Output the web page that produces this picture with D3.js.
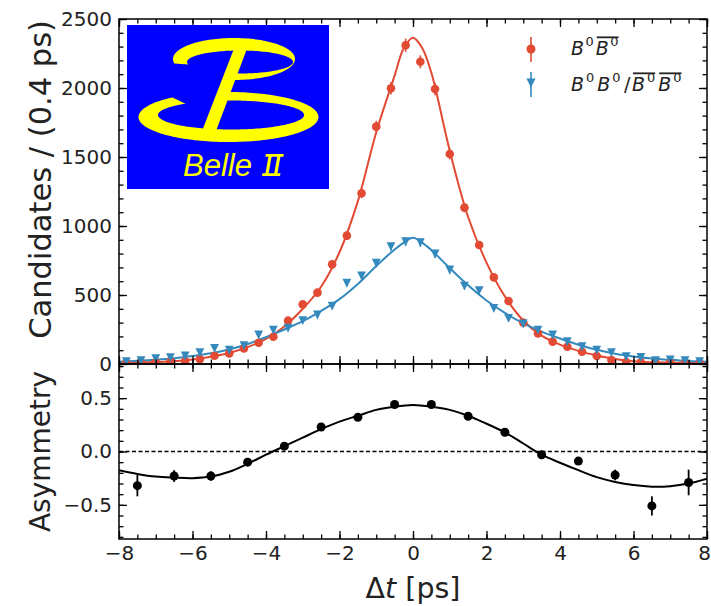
<!DOCTYPE html>
<html><head><meta charset="utf-8">
<script src="https://cdn.jsdelivr.net/npm/d3@7"></script>
<style>body{margin:0;background:#fff}svg{display:block}</style>
</head><body><svg id="c" width="711" height="606"></svg>
<script>
// ---------- data ----------
const binCenters = [-7.8,-7.4,-7.0,-6.6,-6.2,-5.8,-5.4,-5.0,-4.6,-4.2,-3.8,-3.4,-3.0,-2.6,-2.2,-1.8,-1.4,-1.0,-0.6,-0.2,
                    0.2,0.6,1.0,1.4,1.8,2.2,2.6,3.0,3.4,3.8,4.2,4.6,5.0,5.4,5.8,6.2,6.6,7.0,7.4,7.8];
const oppositeFlavor = [10,10,15,18,20,34,60,77,113,154,198,314,432,517,722,930,1237,1720,1998,2310,
                        2190,1993,1522,1133,862,628,456,300,222,162,125,89,58,29,15,12,10,10,8,8];
const sameFlavor = [17,24,38,46,58,82,113,101,133,210,246,259,314,355,420,585,638,730,850,886,
                    880,797,681,565,531,403,331,290,246,210,162,125,101,82,53,48,24,29,24,17];
const fitX = [-8,-7.5,-7,-6.5,-6,-5.5,-5,-4.5,-4,-3.5,-3,-2.5,-2,-1.5,-1,-0.5,-0.25,0,0.25,0.5,1,1.5,2,2.5,3,3.5,4,4.5,5,5.5,6,6.5,7,7.5,8];
const fitOpposite = [8,10,14,20,32,52,80,122,182,272,400,560,810,1180,1680,2090,2290,2365,2290,2110,1545,1065,735,490,315,205,140,95,62,36,20,13,10,8,7];
const fitSame = [17,23,31,42,58,78,105,145,195,250,310,385,470,580,710,830,880,915,880,825,695,570,460,370,295,235,185,140,103,75,55,40,30,22,17];
const asymX = [-7.5,-6.5,-5.5,-4.5,-3.5,-2.5,-1.5,-0.5,0.5,1.5,2.5,3.5,4.5,5.5,6.5,7.5];
const asymVal = [-0.32,-0.23,-0.23,-0.10,0.05,0.23,0.32,0.44,0.44,0.33,0.18,-0.03,-0.09,-0.22,-0.51,-0.29];
const asymErr = [0.10,0.055,0.045,0.03,0.025,0.02,0.02,0.02,0.02,0.02,0.02,0.025,0.03,0.05,0.09,0.12];
const asymFitX = [-8,-7.5,-7,-6.5,-6,-5.5,-5,-4.5,-4,-3.5,-3,-2.5,-2,-1.5,-1,-0.5,0,0.5,1,1.5,2,2.5,3,3.5,4,4.5,5,5.5,6,6.5,7,7.5,8];
const asymFitVal = [-0.175,-0.21,-0.235,-0.245,-0.25,-0.235,-0.19,-0.115,-0.03,0.05,0.13,0.21,0.28,0.335,0.39,0.42,0.435,0.42,0.39,0.335,0.26,0.18,0.075,-0.03,-0.105,-0.175,-0.24,-0.285,-0.315,-0.33,-0.325,-0.30,-0.255];
const xMajorTicks = [-8,-6,-4,-2,0,2,4,6,8];
const yTopTicks = [0,500,1000,1500,2000,2500];
const yBotTicks = [-0.5,0,0.5];

// ---------- layout ----------
const svg = d3.select("#c");
const L=119, R=707, T=19, M=364, B=539;
const RED="#E24A33", BLUE="#348ABD", FONT="DejaVu Sans";
const x = d3.scaleLinear().domain([-8,8]).range([L,R]);
const yTop = d3.scaleLinear().domain([0,2500]).range([M,T]);
const yBot = d3.scaleLinear().domain([-0.82,0.82]).range([B,M]);

const defs = svg.append("defs");
defs.append("clipPath").attr("id","clipTop").append("rect").attr("x",L).attr("y",T).attr("width",R-L).attr("height",M-T);
defs.append("clipPath").attr("id","clipBot").append("rect").attr("x",L).attr("y",M).attr("width",R-L).attr("height",B-M);

// ---------- top panel ----------
const topG = svg.append("g").attr("clip-path","url(#clipTop)");
const lineTop = d3.line().x(d=>x(d[0])).y(d=>yTop(d[1])).curve(d3.curveCatmullRom.alpha(0.5));
topG.append("path").datum(fitX.map((v,i)=>[v,fitOpposite[i]])).attr("d",lineTop)
  .attr("fill","none").attr("stroke",RED).attr("stroke-width",2);
topG.append("path").datum(fitX.map((v,i)=>[v,fitSame[i]])).attr("d",lineTop)
  .attr("fill","none").attr("stroke",BLUE).attr("stroke-width",2);

const redData = binCenters.map((c,i)=>({c, v:oppositeFlavor[i]}));
const blueData = binCenters.map((c,i)=>({c, v:sameFlavor[i]}));
topG.selectAll(".rerr").data(redData).join("line")
  .attr("x1",d=>x(d.c)).attr("x2",d=>x(d.c))
  .attr("y1",d=>yTop(d.v-Math.sqrt(d.v))).attr("y2",d=>yTop(d.v+Math.sqrt(d.v)))
  .attr("stroke",RED).attr("stroke-width",1.6);
topG.selectAll(".rpt").data(redData).join("circle")
  .attr("cx",d=>x(d.c)).attr("cy",d=>yTop(d.v)).attr("r",4.3).attr("fill",RED);
topG.selectAll(".berr").data(blueData).join("line")
  .attr("x1",d=>x(d.c)).attr("x2",d=>x(d.c))
  .attr("y1",d=>yTop(d.v-Math.sqrt(d.v))).attr("y2",d=>yTop(d.v+Math.sqrt(d.v)))
  .attr("stroke",BLUE).attr("stroke-width",1.6);
const tri = (cx,cy,h)=>`M${cx-h},${cy-h}L${cx+h},${cy-h}L${cx},${cy+h}Z`;
topG.selectAll(".bpt").data(blueData).join("path")
  .attr("d",d=>tri(x(d.c),yTop(d.v),4.4)).attr("fill",BLUE);

// ---------- bottom panel ----------
const botG = svg.append("g").attr("clip-path","url(#clipBot)");
botG.append("line").attr("x1",L).attr("x2",R).attr("y1",yBot(0)).attr("y2",yBot(0))
  .attr("stroke","#000").attr("stroke-width",1.3).attr("stroke-dasharray","4,2.5");
const lineBot = d3.line().x(d=>x(d[0])).y(d=>yBot(d[1])).curve(d3.curveCatmullRom.alpha(0.5));
botG.append("path").datum(asymFitX.map((v,i)=>[v,asymFitVal[i]])).attr("d",lineBot)
  .attr("fill","none").attr("stroke","#000").attr("stroke-width",2);
const aData = asymX.map((c,i)=>({c, v:asymVal[i], e:asymErr[i]}));
botG.selectAll(".aerr").data(aData).join("line")
  .attr("x1",d=>x(d.c)).attr("x2",d=>x(d.c))
  .attr("y1",d=>yBot(d.v-d.e)).attr("y2",d=>yBot(d.v+d.e))
  .attr("stroke","#000").attr("stroke-width",1.8);
botG.selectAll(".apt").data(aData).join("circle")
  .attr("cx",d=>x(d.c)).attr("cy",d=>yBot(d.v)).attr("r",4.5).attr("fill","#000");

// ---------- axes ----------
function styleAxis(g){
  g.select(".domain").remove();
  g.selectAll(".tick line").attr("stroke","#000").attr("stroke-width",1.3);
  g.selectAll(".tick text").attr("fill","#222");
  g.attr("font-family",FONT).attr("font-size",20);
}
function addAxis(axisGen, tx, ty){
  const g = svg.append("g").attr("transform",`translate(${tx},${ty})`).call(axisGen);
  styleAxis(g); return g;
}
const MAJ=-8, MIN=-4.5;
[[d3.axisTop,T],[d3.axisBottom,M],[d3.axisTop,M]].forEach(([fn,yy])=>{
  addAxis(fn(x).tickValues(x.ticks(32)).tickSize(MIN).tickFormat(""),0,yy);
  addAxis(fn(x).tickValues(xMajorTicks).tickSize(MAJ).tickFormat(""),0,yy);
});
addAxis(d3.axisBottom(x).tickValues(x.ticks(32)).tickSize(MIN).tickFormat(""),0,B);
const xLab = addAxis(d3.axisBottom(x).tickValues(xMajorTicks).tickSize(MAJ).tickPadding(7).tickFormat(d3.format("d")),0,B);
xLab.selectAll(".tick text").filter(d=>d===8).attr("dx",-3);
addAxis(d3.axisLeft(yTop).tickValues(yTop.ticks(25)).tickSize(MIN).tickFormat(""),L,0);
addAxis(d3.axisLeft(yTop).tickValues(yTopTicks).tickSize(MAJ).tickPadding(7).tickFormat(d3.format("d")),L,0);
addAxis(d3.axisRight(yTop).tickValues(yTop.ticks(25)).tickSize(MIN).tickFormat(""),R,0);
addAxis(d3.axisRight(yTop).tickValues(yTopTicks).tickSize(MAJ).tickFormat(""),R,0);
addAxis(d3.axisLeft(yBot).tickValues(yBot.ticks(16)).tickSize(MIN).tickFormat(""),L,0);
addAxis(d3.axisLeft(yBot).tickValues(yBotTicks).tickSize(MAJ).tickPadding(7).tickFormat(d3.format(".1f")),L,0);
addAxis(d3.axisRight(yBot).tickValues(yBot.ticks(16)).tickSize(MIN).tickFormat(""),R,0);
addAxis(d3.axisRight(yBot).tickValues(yBotTicks).tickSize(MAJ).tickFormat(""),R,0);

svg.append("rect").attr("x",L).attr("y",T).attr("width",R-L).attr("height",M-T)
  .attr("fill","none").attr("stroke","#000").attr("stroke-width",1.5);
svg.append("rect").attr("x",L).attr("y",M).attr("width",R-L).attr("height",B-M)
  .attr("fill","none").attr("stroke","#000").attr("stroke-width",1.5);

// axis labels
svg.append("text").attr("transform",`translate(51,${T+1}) rotate(-90)`).attr("text-anchor","end")
  .attr("font-family",FONT).attr("font-size",30.5).attr("fill","#222").text("Candidates / (0.4 ps)");
svg.append("text").attr("transform",`translate(50,${(M+B)/2}) rotate(-90)`).attr("text-anchor","middle")
  .attr("font-family",FONT).attr("font-size",28).attr("fill","#222").text("Asymmetry");
const xl = svg.append("text").attr("x",(L+R)/2).attr("y",598).attr("text-anchor","middle")
  .attr("font-family",FONT).attr("font-size",28.5).attr("fill","#222");
xl.append("tspan").text("\u0394");
xl.append("tspan").attr("font-style","italic").text("t");
xl.append("tspan").text(" [ps]");

// ---------- legend ----------
const leg = svg.append("g");
leg.append("line").attr("x1",531).attr("x2",531).attr("y1",37).attr("y2",62).attr("stroke",RED).attr("stroke-width",1.6);
leg.append("circle").attr("cx",531).attr("cy",49).attr("r",4.5).attr("fill",RED);
leg.append("line").attr("x1",531).attr("x2",531).attr("y1",72).attr("y2",97).attr("stroke",BLUE).attr("stroke-width",1.6);
leg.append("path").attr("d",tri(531,83,4.6)).attr("fill",BLUE);

function mathText(g, x0, y0, tokens, fs){
  let cx = x0; const bars = [];
  tokens.forEach(tk=>{
    cx += tk.gap || 0;
    const size = tk.sup ? fs*0.68 : fs;
    const t = g.append("text").attr("x",cx).attr("y", tk.sup ? y0-fs*0.45 : y0)
      .attr("font-family",FONT).attr("font-size",size)
      .attr("font-style", tk.it ? "italic" : "normal").attr("fill","#222").text(tk.s);
    if (tk.barStart) bars.push([cx]);
    cx += t.node().getComputedTextLength();
    if (tk.barEnd) bars[bars.length-1].push(cx);
  });
  bars.forEach(b=>g.append("line").attr("x1",b[0]+1).attr("x2",b[1]).attr("y1",y0-fs*0.93).attr("y2",y0-fs*0.93)
    .attr("stroke","#222").attr("stroke-width",1.8));
}
const FS=19;
mathText(leg, 571, 55, [
  {s:"B",it:true},{s:"0",sup:true,gap:1.5},
  {s:"B",it:true,gap:2,barStart:true},{s:"0",sup:true,gap:1.5,barEnd:true}
], FS);
mathText(leg, 571, 91, [
  {s:"B",it:true},{s:"0",sup:true,gap:2},
  {s:"B",it:true,gap:3},{s:"0",sup:true,gap:2},
  {s:"/",gap:3.5},
  {s:"B",it:true,gap:1.5,barStart:true},{s:"0",sup:true,gap:2,barEnd:true},
  {s:"B",it:true,gap:3,barStart:true},{s:"0",sup:true,gap:2,barEnd:true}
], FS);

// ---------- Belle II logo ----------
const logo = svg.append("g");
logo.append("rect").attr("x",127).attr("y",25).attr("width",202).attr("height",164).attr("fill","#0000FF");
function bowl(oc, orx, ory, ic, irx, iry, t0, t1, n){
  const ts = d3.range(n+1).map(i=>t0+(t1-t0)*i/n);
  const outer = ts.map(t=>[oc[0]+orx*Math.cos(t), oc[1]+ory*Math.sin(t)]);
  const inner = ts.slice().reverse().map(t=>[ic[0]+irx*Math.cos(t), ic[1]+iry*Math.sin(t)]);
  return "M"+outer.concat(inner).map(p=>p[0].toFixed(2)+","+p[1].toFixed(2)).join("L")+"Z";
}
const YEL="#FFFF00";
logo.append("path").attr("d",bowl([234,59],61,21,[240,62],53,11.5,0.93*Math.PI,2.5*Math.PI+0.05,120)).attr("fill",YEL);
logo.append("path").attr("d",bowl([228.5,117],90,25,[231,115],73,14.5,4.04,-1.62,160)).attr("fill",YEL);
logo.append("path").attr("d","M235,46L248,46L216,131L202,131Z").attr("fill",YEL);
logo.append("text").attr("x",183).attr("y",176).attr("font-family","Liberation Sans").attr("font-style","italic")
  .attr("font-size",31).attr("fill",YEL).text("Belle");
const two = logo.append("g").attr("transform","translate(262,176) skewX(-10)").attr("fill",YEL);
two.append("rect").attr("x",0).attr("y",-22).attr("width",18).attr("height",2.8);
two.append("rect").attr("x",0).attr("y",-2.8).attr("width",18).attr("height",2.8);
two.append("rect").attr("x",3).attr("y",-22).attr("width",3.2).attr("height",22);
two.append("rect").attr("x",11.8).attr("y",-22).attr("width",3.2).attr("height",22);
</script></body></html>
